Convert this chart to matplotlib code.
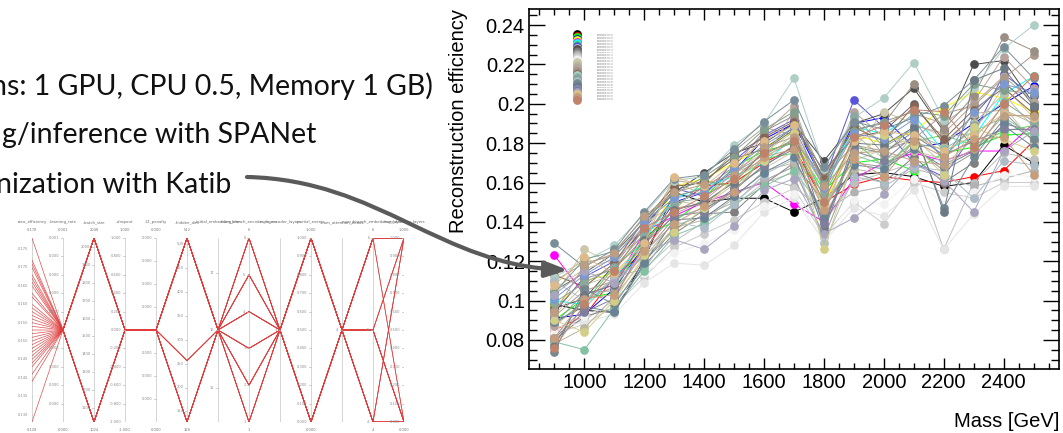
import matplotlib
matplotlib.use("Agg")
import matplotlib.pyplot as plt
import numpy as np
from matplotlib.lines import Line2D
from matplotlib.patches import FancyArrowPatch
from matplotlib.path import Path
from matplotlib.ticker import MultipleLocator, FuncFormatter

W, H = 1063, 433

# ---------------- main plot data: reconstruction efficiency per trial ----------------
masses = [900, 1000, 1100, 1200, 1300, 1400, 1500, 1600, 1700, 1800, 1900, 2000, 2100, 2200, 2300, 2400, 2500]

eff_c01 = [.098, .095, .094, .121, .155, .150, .152, .152, .145, .152, .164, .165, .163, .158, .160, .179, .170]
eff_c02 = [.085, .092, .112, .125, .148, .158, .160, .170, .178, .150, .159, .163, .161, .160, .163, .166, .181]
eff_c03 = [.090, .101, .104, .133, .140, .152, .168, .176, .180, .156, .170, .172, .166, .175, .178, .184, .185]
eff_c04 = [.091, .093, .106, .128, .150, .155, .166, .182, .190, .160, .190, .193, .178, .180, .190, .200, .209]
eff_c05 = [.097, .110, .114, .126, .158, .162, .170, .178, .186, .148, .184, .180, .186, .198, .206, .203, .196]
eff_c06 = [.123, .103, .108, .135, .143, .150, .155, .160, .149, .140, .162, .170, .175, .171, .176, .176, .190]
eff_c07 = [.100, .098, .111, .131, .152, .158, .163, .170, .183, .158, .188, .185, .194, .176, .183, .205, .214]
eff_c08 = [.088, .099, .117, .130, .146, .161, .158, .172, .175, .154, .181, .168, .181, .184, .179, .186, .189]
eff_c09 = [.094, .112, .120, .136, .157, .153, .171, .184, .192, .161, .202, .188, .170, .163, .185, .215, .204]
eff_c11 = [.086, .090, .100, .116, .130, .140, .148, .160, .165, .140, .160, .165, .170, .126, .160, .175, .172]
eff_c12 = [.096, .101, .118, .138, .155, .165, .175, .180, .190, .171, .190, .195, .208, .186, .220, .222, .200]
eff_c13 = [.105, .114, .124, .140, .156, .161, .172, .177, .188, .166, .183, .186, .200, .180, .194, .211, .198]
eff_c14 = [.080, .092, .096, .118, .134, .144, .145, .159, .170, .150, .165, .160, .173, .160, .170, .190, .186]
eff_c15 = [.088, .104, .105, .124, .142, .147, .154, .161, .168, .132, .170, .168, .178, .166, .175, .196, .181]
eff_c16 = [.082, .096, .112, .116, .138, .143, .150, .162, .158, .145, .155, .158, .167, .163, .158, .162, .166]
eff_c17 = [.083, .088, .097, .112, .127, .134, .141, .150, .157, .133, .150, .139, .160, .155, .152, .160, .160]
eff_c18 = [.086, .089, .093, .109, .119, .118, .128, .145, .152, .130, .147, .143, .156, .126, .144, .158, .158]
eff_c19 = [.084, .092, .099, .114, .124, .129, .136, .148, .154, .131, .151, .149, .162, .149, .155, .164, .163]
eff_c20 = [.102, .126, .118, .139, .149, .156, .166, .175, .186, .152, .177, .196, .190, .183, .185, .209, .193]
eff_c21 = [.093, .108, .113, .127, .151, .148, .159, .167, .176, .149, .171, .177, .183, .169, .182, .199, .180]
eff_c22 = [.106, .116, .121, .133, .160, .154, .165, .171, .197, .143, .185, .172, .176, .172, .190, .205, .188]
eff_c23 = [.078, .086, .102, .121, .137, .141, .152, .166, .170, .144, .167, .164, .185, .178, .195, .197, .190]
eff_c24 = [.110, .119, .123, .137, .161, .159, .176, .188, .184, .160, .192, .174, .189, .185, .200, .214, .201]
eff_c25 = [.087, .100, .107, .126, .144, .151, .163, .185, .199, .156, .196, .183, .195, .190, .201, .224, .208]
eff_c26 = [.092, .105, .110, .129, .147, .149, .161, .173, .181, .163, .179, .176, .182, .195, .199, .213, .225]
eff_c27 = [.095, .111, .116, .132, .153, .157, .168, .186, .194, .164, .187, .190, .210, .187, .204, .234, .227]
eff_c28 = [.113, .107, .119, .141, .158, .160, .174, .183, .191, .162, .188, .181, .199, .182, .197, .208, .195]
eff_c29 = [.112, .120, .128, .144, .161, .163, .179, .190, .213, .167, .193, .203, .221, .192, .208, .228, .240]
eff_c30 = [.079, .075, .096, .115, .133, .139, .149, .158, .166, .146, .174, .169, .180, .177, .186, .193, .184]
eff_c31 = [.099, .109, .117, .134, .150, .152, .165, .174, .182, .153, .194, .178, .187, .173, .189, .201, .191]
eff_c32 = [.104, .121, .125, .142, .154, .163, .173, .187, .196, .159, .186, .191, .196, .194, .210, .207, .205]
eff_c33 = [.110, .100, .111, .122, .140, .137, .149, .164, .172, .129, .163, .160, .168, .166, .152, .171, .169]
eff_c34 = [.129, .117, .126, .145, .162, .164, .177, .191, .202, .168, .191, .187, .193, .199, .212, .229, .213]
eff_c35 = [.074, .106, .098, .120, .136, .146, .157, .168, .179, .135, .178, .175, .186, .147, .173, .192, .182]
eff_c36 = [.089, .097, .094, .119, .141, .142, .153, .165, .173, .142, .169, .167, .177, .168, .176, .189, .178]
eff_c37 = [.077, .103, .108, .131, .146, .150, .160, .176, .187, .137, .180, .179, .188, .145, .212, .218, .199]
eff_c38 = [.101, .113, .122, .140, .152, .155, .167, .179, .188, .157, .185, .182, .192, .171, .196, .210, .206]
eff_c39 = [.081, .094, .101, .129, .143, .145, .156, .169, .177, .139, .176, .171, .184, .174, .181, .187, .187]
eff_c40 = [.103, .115, .109, .124, .131, .126, .138, .156, .162, .134, .142, .154, .170, .161, .145, .176, .186]
eff_c41 = [.090, .084, .100, .123, .135, .147, .162, .171, .185, .126, .173, .184, .179, .164, .188, .182, .176]
eff_c42 = [.108, .122, .114, .129, .163, .158, .170, .181, .189, .147, .181, .186, .184, .176, .184, .195, .193]
eff_c43 = [.094, .118, .124, .143, .155, .159, .164, .178, .183, .158, .175, .176, .171, .169, .177, .194, .194]
eff_c44 = [.081, .101, .103, .125, .139, .148, .155, .173, .177, .146, .172, .163, .181, .173, .182, .183, .164]
eff_c45 = [.076, .098, .115, .137, .145, .153, .162, .175, .181, .150, .183, .189, .197, .196, .178, .200, .214]

series = [
    (eff_c01, '#000000'), (eff_c02, '#ff0000'), (eff_c03, '#00ff00'), (eff_c04, '#0000ff'),
    (eff_c05, '#ffff00'), (eff_c06, '#ff00ff'), (eff_c07, '#00ffff'), (eff_c08, '#59d454'),
    (eff_c09, '#5954d9'), (eff_c11, '#bfbfbf'), (eff_c12, '#4c4c4c'), (eff_c13, '#666666'),
    (eff_c14, '#7f7f7f'), (eff_c15, '#999999'), (eff_c16, '#b2b2b2'), (eff_c17, '#cccccc'),
    (eff_c18, '#e5e5e5'), (eff_c19, '#f2f2f2'), (eff_c20, '#ccc6aa'), (eff_c21, '#ccc6aa'),
    (eff_c22, '#c1bfa8'), (eff_c23, '#bab59e'), (eff_c24, '#b2a596'), (eff_c25, '#b7a39b'),
    (eff_c26, '#ad998c'), (eff_c27, '#9b8e82'), (eff_c28, '#876656'), (eff_c29, '#afcec6'),
    (eff_c30, '#84c1a3'), (eff_c31, '#89a8a0'), (eff_c32, '#829e8c'), (eff_c33, '#adbcc6'),
    (eff_c34, '#7a8e99'), (eff_c35, '#758991'), (eff_c36, '#688296'), (eff_c37, '#6b7a84'),
    (eff_c38, '#7c99d1'), (eff_c39, '#7f7f9b'), (eff_c40, '#aaa5bf'), (eff_c41, '#d3ce87'),
    (eff_c42, '#ddba87'), (eff_c43, '#bc9e82'), (eff_c44, '#c69e7c'), (eff_c45, '#bf826b'),
]
trial_labels = ["spanet-katib-trial-%02d" % (i + 1) for i in range(len(series))]

# ---------------- Katib parallel coordinates data ----------------
pc_names = ["reco_efficiency", "\u2013learning_rate", "\u2013batch_size", "\u2013dropout", "\u2013l2_penalty",
            "\u2013hidden_dim", "\u2013initial_embedding_dim", "\u2013num_branch_encoder_layers",
            "\u2013num_encoder_layers", "\u2013partial_events", "\u2013num_attention_heads",
            "\u2013num_branch_embedding_layers", "\u2013num_decoder_layers"]
pc_lo = [0.128, 0.0001, 1024, -1.0, 0.0, 128, 14.4, 1, 2, 0.0, 3, 4, 0.0]
pc_hi = [0.178, 0.0005, 2048, 1.0, 0.0001, 512, 17.6, 6, 4, 1.0, 5, 6, 1.0]
pc_fmt = ["%.3f", "%.3f", "%d", "%.3f", "%.3f", "%d", "%d", "%d", "%d", "%.3f", "%d", "%d", "%.3f"]
pc_ends = [True, True, True, True, True, True, False, True, False, True, False, True, True]
pc_ticks = [
    [0.130, 0.135, 0.140, 0.145, 0.150, 0.155, 0.160, 0.165, 0.170, 0.175],
    [0.0005, 0.00046, 0.00042, 0.00038, 0.00034, 0.00026, 0.00022, 0.00018, 0.00014],
    [1100, 1200, 1300, 1400, 1500, 1600, 1700, 1800, 1900, 2000],
    [-1.0, -0.8, -0.6, -0.4, -0.2, 0.0, 0.2, 0.4, 0.6, 0.8, 1.0],
    [0.0001, 0.0000875, 0.000075, 0.0000625, 0.0000375, 0.000025, 0.0000125],
    [150, 200, 250, 300, 350, 400, 450, 500],
    [15, 16, 17],
    [1, 2, 3, 4, 5, 6],
    [3],
    [0.0, 0.1, 0.2, 0.3, 0.4, 0.5, 0.6, 0.7, 0.8, 0.9, 1.0],
    [4],
    [4, 5, 6],
    [0.0, 0.1, 0.2, 0.3, 0.4, 0.5, 0.6, 0.7, 0.8, 0.9, 1.0],
]
pc_reco = [0.178, 0.172, 0.171, 0.170, 0.168, 0.167, 0.166, 0.165, 0.163, 0.162, 0.160, 0.159, 0.158,
           0.157, 0.156, 0.155, 0.154, 0.153, 0.152, 0.151, 0.150, 0.149, 0.148, 0.147, 0.146, 0.145,
           0.144, 0.143, 0.141, 0.139, 0.128]
pc_batch = [1024, 2048, 2048, 1024, 2048, 1024, 2048, 2048, 1024, 2048, 1024, 2048, 1024, 2048, 2048, 1024,
            2048, 1024, 2048, 1024, 2048, 2048, 1024, 2048, 1024, 2048, 1024, 2048, 1024, 2048, 1024]
pc_hidden = [128, 512, 256, 512, 128, 512, 512, 128, 512, 256, 512, 128, 512, 512, 128, 512,
             256, 512, 128, 512, 512, 128, 512, 512, 256, 128, 512, 128, 512, 512, 128]
pc_branch_enc = [1, 6, 3, 5, 2, 4, 6, 1, 3, 5, 2, 4, 6, 1, 3, 5, 2, 4, 6, 1, 3, 5, 2, 4, 6, 1, 3, 5, 2, 4, 6]
pc_partial = [0, 1, 1, 0, 1, 0, 1, 0, 1, 1, 0, 1, 0, 1, 0, 1, 1, 0, 1, 0, 1, 0, 1, 1, 0, 1, 0, 1, 0, 1, 0]
pc_branch_emb = [4, 6, 5, 6, 4, 5, 6, 4, 6, 5, 4, 6, 5, 4, 6, 6, 5, 4, 6, 5, 4, 6, 5, 6, 4, 6, 5, 4, 6, 5, 4]
pc_decoder = [0, 1, 0, 1, 1, 0, 1, 0, 0, 1, 1, 1, 0, 0, 1, 1, 0, 0, 1, 1, 0, 0, 1, 1, 0, 1, 0, 1, 1, 0, 0]
pc_learning_rate = 0.0003
pc_dropout = 0.0
pc_l2 = 0.00005
pc_init_emb = 16
pc_encoder = 3
pc_heads = 4

slide_lines = ["ns: 1 GPU, CPU 0.5, Memory 1 GB)", "g/inference with SPANet", "nization with Katib"]

fig = plt.figure(figsize=(W / 100, H / 100), dpi=100)
fig.patch.set_facecolor('white')

# ---------------- main ROOT-style plot ----------------
ax = fig.add_axes([529 / W, 1 - 369 / H, (1059 - 529) / W, (369 - 9) / H])
for vals, c in series:
    ax.plot(masses, vals, '-o', color=c, lw=0.7, ms=6.3, mew=0)
ax.set_xlim(815, 2585)
ax.set_ylim(0.0652, 0.2482)
ax.xaxis.set_major_locator(MultipleLocator(200))
ax.xaxis.set_minor_locator(MultipleLocator(50))
ax.yaxis.set_major_locator(MultipleLocator(0.02))
ax.yaxis.set_minor_locator(MultipleLocator(0.005))
ax.yaxis.set_major_formatter(FuncFormatter(lambda v, p: '%g' % round(v, 3)))
ax.tick_params(which='both', direction='in', top=True, right=True, width=1.0, labelsize=14.5,
               labelfontfamily='Liberation Sans')
ax.tick_params(axis='y', which='major', length=11.5, pad=3)
ax.tick_params(axis='y', which='minor', length=5.5)
ax.tick_params(axis='x', which='major', length=8, pad=3)
ax.tick_params(axis='x', which='minor', length=4.3)
for sp in ax.spines.values():
    sp.set_linewidth(1.2)
ax.set_ylabel("Reconstruction efficiency", loc='top', fontsize=14.5, family='Liberation Sans')
ax.yaxis.set_label_coords(-0.115, 1.0)
ax.set_xlabel("Mass [GeV]", loc='right', fontsize=14.5, family='Liberation Sans')
ax.xaxis.set_label_coords(1.0, -0.119)

handles = [Line2D([], [], ls='none', marker='o', ms=6.3, mew=0, color=c) for _, c in series]
leg = ax.legend(handles, trial_labels, loc='upper left', bbox_to_anchor=(0.088, 0.932),
                fontsize=1.15, frameon=False, borderpad=0, borderaxespad=0, labelspacing=0.17,
                handlelength=2, handletextpad=11.5, labelcolor='#777777')

# ---------------- Katib parallel coordinates ----------------
pax = fig.add_axes([32 / W, 1 - 422 / H, (404 - 32) / W, (422 - 238) / H])
pax.set_xlim(0, 12)
pax.set_ylim(0, 1)
pax.set_axis_off()
n_axes = len(pc_names)
pax.vlines(range(n_axes), 0, 1, color='#cfcfcf', lw=0.6)

n_trials = len(pc_reco)
columns = [
    pc_reco, [pc_learning_rate] * n_trials, pc_batch, [pc_dropout] * n_trials, [pc_l2] * n_trials,
    pc_hidden, [pc_init_emb] * n_trials, pc_branch_enc, [pc_encoder] * n_trials, pc_partial,
    [pc_heads] * n_trials, pc_branch_emb, pc_decoder,
]
for k in range(n_trials):
    ys = [(col[k] - lo) / (hi - lo) for col, lo, hi in zip(columns, pc_lo, pc_hi)]
    pax.plot(range(n_axes), ys, color='#e03c3c', lw=0.5, alpha=0.9)

for i in range(n_axes):
    lo, hi = pc_lo[i], pc_hi[i]
    for t in pc_ticks[i]:
        f = (t - lo) / (hi - lo)
        pax.plot([i - 0.05, i], [f, f], color='#bbbbbb', lw=0.5)
        pax.annotate(pc_fmt[i] % t, (i, f), xytext=(-2.5, 0), textcoords='offset points',
                     ha='right', va='center', fontsize=2.6, color='#8a8a8a')
    pax.annotate(pc_names[i], (i, 1), xytext=(0, 11.5), textcoords='offset points',
                 ha='center', va='center', fontsize=2.8, color='#666666', annotation_clip=False)
    if pc_ends[i]:
        pax.annotate(pc_fmt[i] % hi, (i, 1), xytext=(0, 5.8), textcoords='offset points',
                     ha='center', va='center', fontsize=2.6, color='#777777', annotation_clip=False)
        pax.annotate(pc_fmt[i] % lo, (i, 0), xytext=(0, -5.8), textcoords='offset points',
                     ha='center', va='center', fontsize=2.6, color='#777777', annotation_clip=False)

# ---------------- slide overlay: text and curved arrow ----------------
ov = fig.add_axes([0, 0, 1, 1], zorder=10)
ov.set_xlim(0, W)
ov.set_ylim(H, 0)
ov.set_axis_off()
ov.patch.set_visible(False)

for txt, xr, yb in zip(slide_lines, [433, 316, 231], [95, 143, 193]):
    ov.text(xr, yb, txt, ha='right', va='baseline', fontsize=20.5, family='Lato', color='#111111')

arrow_path = Path([(247, 177), (380, 180), (440, 266), (568, 270)],
                  [Path.MOVETO, Path.CURVE4, Path.CURVE4, Path.CURVE4])
arrow = FancyArrowPatch(path=arrow_path, arrowstyle='-|>,head_length=0.9,head_width=0.32',
                        mutation_scale=15, lw=3, color='#5a5a5a', transform=ov.transData)
ov.add_patch(arrow)

fig.savefig("out.png", dpi=100)
